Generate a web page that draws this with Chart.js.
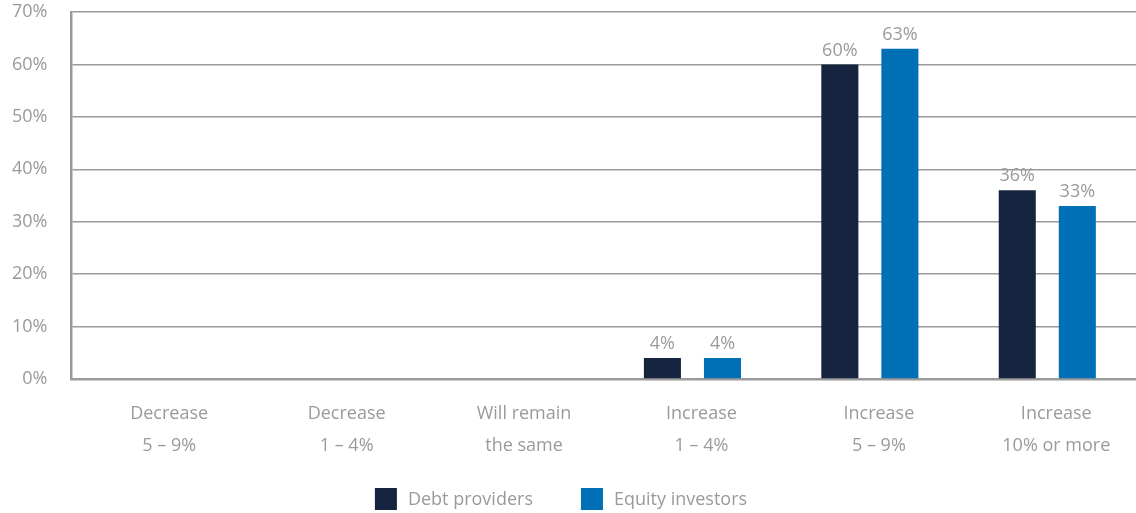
<html>
<body style="margin:0;background:#fff;">
<canvas id="myChart" width="1136" height="513"></canvas>

<script src="https://cdn.jsdelivr.net/npm/chart.js"></script>

<script>
  const labels = [['Decrease','5 – 9%'], ['Decrease','1 – 4%'], ['Will remain','the same'],
                  ['Increase','1 – 4%'], ['Increase','5 – 9%'], ['Increase','10% or more']];
  const debtProviders = [0, 0, 0, 4, 60, 36];
  const equityInvestors = [0, 0, 0, 4, 63, 33];
  const yTicks = [0, 10, 20, 30, 40, 50, 60, 70];

  const grey = '#9a9a9a';
  const fontCss = '18px "Open Sans", sans-serif';
  const font = { family: '"Open Sans", sans-serif', size: 18 };

  // values on top of the bars (skip zeros)
  const valueLabels = {
    id: 'valueLabels',
    afterDatasetsDraw(chart) {
      const ctx = chart.ctx;
      ctx.save();
      ctx.font = fontCss;
      ctx.fillStyle = grey;
      ctx.textAlign = 'center';
      ctx.textBaseline = 'bottom';
      chart.data.datasets.forEach((ds, i) => {
        chart.getDatasetMeta(i).data.forEach((bar, j) => {
          if (ds.data[j] > 0) ctx.fillText(ds.data[j] + '%', bar.x, bar.y - 5);
        });
      });
      ctx.restore();
    }
  };

  // legend drawn by hand so the spacing matches
  const bottomLegend = {
    id: 'bottomLegend',
    afterDraw(chart) {
      const ctx = chart.ctx;
      const box = 22, gap = 11, itemGap = 48;
      ctx.save();
      ctx.font = fontCss;
      const items = chart.data.datasets.map(ds => ({ text: ds.label, color: ds.backgroundColor, w: ctx.measureText(ds.label).width }));
      const total = items.reduce((s, it) => s + box + gap + it.w, 0) + itemGap * (items.length - 1);
      let x = (chart.width - total) / 2 - 7;
      const y = chart.height - 14;
      ctx.textBaseline = 'middle';
      items.forEach(it => {
        ctx.fillStyle = it.color;
        ctx.fillRect(x, y - box / 2, box, box);
        ctx.fillStyle = grey;
        ctx.fillText(it.text, x + box + gap, y + 1);
        x += box + gap + it.w + itemGap;
      });
      ctx.restore();
    }
  };

  const myChart = new Chart(document.getElementById('myChart'), {
    type: 'bar',
    data: {
      labels: labels,
      datasets: [
        { label: 'Debt providers', data: debtProviders, backgroundColor: '#16243f' },
        { label: 'Equity investors', data: equityInvestors, backgroundColor: '#0070b6' }
      ]
    },
    options: {
      responsive: false,
      animation: false,
      categoryPercentage: 0.677,
      barPercentage: 0.617,
      layout: { padding: { top: 12, left: 12, right: 0, bottom: 40 } },
      plugins: {
        tooltip: { enabled: false },
        legend: { display: false }
      },
      scales: {
        x: {
          grid: { display: false },
          border: { color: grey, width: 2.5 },
          ticks: { color: grey, font: { family: font.family, size: 18, lineHeight: 1.78 }, padding: 11,
                   labelOffset: 9, maxRotation: 0, autoSkip: false }
        },
        y: {
          min: 0, max: 70,
          afterBuildTicks(axis) { axis.ticks = yTicks.map(v => ({ value: v })); },
          grid: { color: grey, lineWidth: 1.5, drawTicks: true, tickLength: 24, tickColor: 'rgba(0,0,0,0)' },
          border: { color: grey, width: 2.5 },
          ticks: { color: grey, font: font, padding: 0, callback: v => v + '%' }
        }
      }
    },
    plugins: [valueLabels, bottomLegend]
  });
</script>

</body>
</html>
